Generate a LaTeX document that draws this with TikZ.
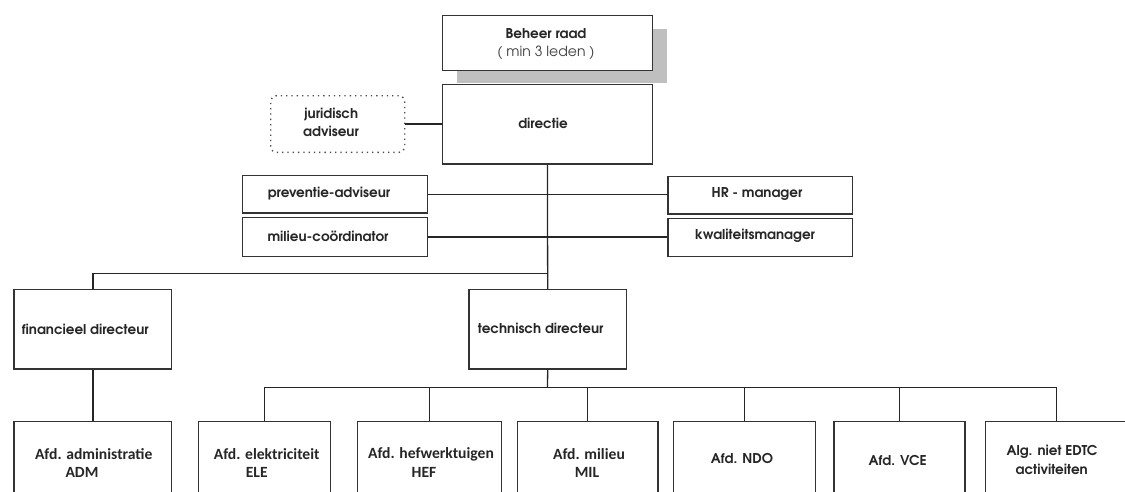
\documentclass[tikz,border=0pt]{standalone}
\usepackage{fontspec}
\IfFontExistsTF{texgyreadventor-bold.otf}
 {\newfontfamily\gothic{texgyreadventor}[Extension=.otf,UprightFont=*-regular,BoldFont=*-bold]}
 {\newfontfamily\gothic{Poppins}}
\newfontfamily\calib{Carlito}
\begin{document}
\begin{tikzpicture}[x=1pt,y=-1pt,
  box/.style={draw=black!80, line width=1.4pt, fill=white, inner sep=0pt, anchor=north west},
  lnk/.style={draw=black!85, line width=1.3pt},
  gt/.style={font=\gothic\bfseries\fontsize{13.5}{15}\selectfont, text=black!85, inner sep=0pt},
  gtr/.style={font=\gothic\fontsize{14}{15}\selectfont, text=black!75, inner sep=0pt},
  ct/.style={font=\calib\bfseries\fontsize{15.6}{17}\selectfont, text=black!85, inner sep=0pt}]
\useasboundingbox (0,0) rectangle (1125,491);
\clip (0,0) rectangle (1125,491);
% shadow of the board box
\fill[black!25] (456.7,29.3) rectangle (666.7,82.7);
% boxes
\node[box, minimum width=210pt, minimum height=55.3pt] (beheer) at (441.7,14.7) {};
\node[box, minimum width=210pt, minimum height=79.3pt] (directie) at (441.7,84) {};
\node[box, draw=black!70, dash pattern=on 1.3pt off 4pt, rounded corners=6pt,
      minimum width=134pt, minimum height=56.7pt] (jur) at (270,95) {};
\node[box, minimum width=185pt, minimum height=37.6pt] (prev) at (241.7,174.7) {};
\node[box, minimum width=185pt, minimum height=39pt] (milc) at (241.7,216.7) {};
\node[box, minimum width=184.4pt, minimum height=37.3pt] (hr) at (667.3,176) {};
\node[box, minimum width=184.4pt, minimum height=38pt] (kwal) at (667.3,217.7) {};
\node[box, minimum width=157.7pt, minimum height=79.3pt] (fin) at (13.3,289) {};
\node[box, minimum width=157.4pt, minimum height=79.3pt] (tech) at (468.3,289) {};
\node[box, minimum width=157.7pt, minimum height=90pt] (adm) at (13.3,420.7) {};
\node[box, minimum width=132.3pt, minimum height=90pt] (ele) at (197.7,420.7) {};
\node[box, minimum width=144pt, minimum height=90pt] (hef) at (356.7,420.7) {};
\node[box, minimum width=140.6pt, minimum height=90pt] (mil) at (516.7,420.7) {};
\node[box, minimum width=142pt, minimum height=90pt] (ndo) at (672.7,420.7) {};
\node[box, minimum width=131pt, minimum height=90pt] (vce) at (833.3,420.7) {};
\node[box, minimum width=142pt, minimum height=90pt] (alg) at (985,420.7) {};
% connectors
\coordinate (tbus) at (547.5,273.3);
\coordinate (bbus) at (547.5,387.5);
\draw[lnk] (jur.east) -- (jur.east -| directie.west);
\draw[lnk] (directie.south) -- (tech.north);
\draw[lnk] (fin.north) |- (tbus);
\draw[lnk] (prev.east) -- (prev.east -| hr.west);
\draw[lnk] (milc.east) -- (milc.east -| kwal.west);
\draw[lnk] (fin.south) -- (adm.north);
\draw[lnk] (tech.south) -- (bbus);
\foreach \n in {ele,hef,mil,ndo,vce,alg} \draw[lnk] (\n.north) |- (bbus);
% texts
\node[gt] (t-beheer) at (546,34) {Beheer raad};
\node[gtr] (t-leden) at (546,53) {( min 3 leden )};
\node[gt] (t-dir) at (543,123) {directie};
\node[gt, anchor=west] (t-jur1) at (304,115) {juridisch};
\node[gt, anchor=west] (t-jur2) at (303,131.5) {adviseur};
\node[gt] (t-prev) at (329,193.5) {preventie-adviseur};
\node[gt] (t-milc) at (328,236) {milieu-coördinator};
\node[gt] (t-hr) at (757,194) {HR - manager};
\node[gt] (t-kwal) at (755,236) {kwaliteitsmanager};
\node[gt, anchor=west] (t-fin) at (21.7,329) {financieel directeur};
\node[gt, anchor=west] (t-tech) at (477.7,328.5) {technisch directeur};
\node[ct] (t-adm1) at (93.7,454) {Afd. administratie};
\node[ct] (t-adm2) at (82,472.7) {ADM};
\node[ct] (t-ele1) at (266.7,454) {Afd. elektriciteit};
\node[ct] (t-ele2) at (256.7,472.7) {ELE};
\node[ct] (t-hef1) at (431,454) {Afd. hefwerktuigen};
\node[ct] (t-hef2) at (424,472.7) {HEF};
\node[ct] (t-mil1) at (589,454) {Afd. milieu};
\node[ct] (t-mil2) at (587,472.7) {MIL};
\node[gt] (t-ndo) at (742,459) {Afd. NDO};
\node[gt] (t-vce) at (897.7,461) {Afd. VCE};
\node[gt] (t-alg1) at (1052,452.3) {Alg. niet EDTC};
\node[gt] (t-alg2) at (1051.7,469) {activiteiten};
\end{tikzpicture}
\end{document}
